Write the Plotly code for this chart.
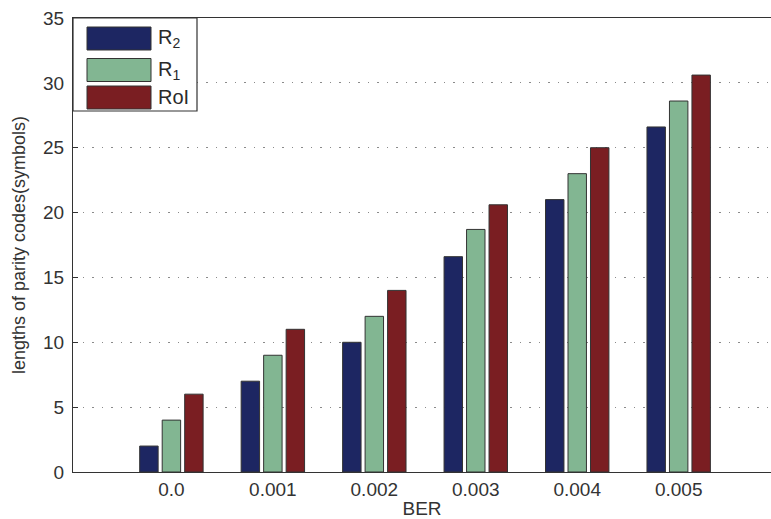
import plotly.graph_objects as go

categories = ["0.0", "0.001", "0.002", "0.003", "0.004", "0.005"]
r2 = [2, 7, 10, 16.6, 21, 26.6]
r1 = [4, 9, 12, 18.7, 23, 28.6]
roi = [6, 11, 14, 20.6, 25, 30.6]
series_names = ["R<sub>2</sub>", "R<sub>1</sub>", "RoI"]
colors = ["#1d2662", "#82b692", "#7a1e22"]
y_ticks = [0, 5, 10, 15, 20, 25, 30, 35]

W, H = 771, 519
ML, MR, MT, MB = 73, 0, 18, 47
PW, PH = W - ML - MR, H - MT - MB
FONT = "Liberation Sans, Arial, Helvetica, sans-serif"

xidx = list(range(len(categories)))

fig = go.Figure()
for name, vals, col in zip(series_names, [r2, r1, roi], colors):
    fig.add_trace(go.Bar(
        x=xidx, y=vals, name=name,
        marker=dict(color=col, line=dict(color="#333333", width=1)),
        showlegend=False,
    ))

def px_x(p):
    return (p - ML) / PW

def px_y(p):
    return (H - MB - p) / PH

shapes = []
annotations = []
# legend box
shapes.append(dict(type="rect", xref="paper", yref="paper",
                   x0=px_x(73), x1=px_x(197), y0=px_y(111), y1=px_y(18),
                   fillcolor="white", line=dict(color="#333333", width=1.2), layer="above"))
sw_tops = [27, 58.5, 86]
sw_bots = [50, 81.5, 109]
for name, col, t, b in zip(series_names, colors, sw_tops, sw_bots):
    shapes.append(dict(type="rect", xref="paper", yref="paper",
                       x0=px_x(87), x1=px_x(151), y0=px_y(b), y1=px_y(t),
                       fillcolor=col, line=dict(color="#333333", width=1), layer="above"))
    annotations.append(dict(xref="paper", yref="paper", x=px_x(156), y=px_y((t + b) / 2),
                            text=name, showarrow=False, xanchor="left", yanchor="middle",
                            font=dict(family=FONT, size=20, color="#2a2a2a")))

fig.update_layout(
    width=W, height=H,
    margin=dict(l=ML, r=MR, t=MT, b=MB),
    paper_bgcolor="white", plot_bgcolor="white",
    barmode="group", bargap=0.335, bargroupgap=0.18,
    font=dict(family=FONT, size=19, color="#333333"),
    shapes=shapes, annotations=annotations,
    xaxis=dict(
        tickmode="array", tickvals=xidx, ticktext=categories,
        range=[-0.97, 5.91], showgrid=False, zeroline=False,
        showline=True, linecolor="#333333", linewidth=1, mirror=True,
        ticks="", tickfont=dict(size=19, color="#333333"), automargin=False,
        title=dict(text="BER", font=dict(size=19, color="#333333"), standoff=2),
    ),
    yaxis=dict(
        range=[0, 35], tickvals=y_ticks, showgrid=True,
        gridcolor="#8a8a8a", griddash="1.5px,8px", gridwidth=1, zeroline=False,
        showline=True, linecolor="#333333", linewidth=1, mirror=True,
        ticks="inside", ticklen=5, tickcolor="#333333", ticklabelstandoff=4,
        tickfont=dict(size=19, color="#333333"), automargin=False,
        title=dict(text="lengths of parity codes(symbols)", font=dict(size=18, color="#333333"), standoff=12),
    ),
)

fig.write_html("out.html", config={"displayModeBar": False},
               post_script="document.body.style.margin='0';document.body.style.overflow='hidden';")
